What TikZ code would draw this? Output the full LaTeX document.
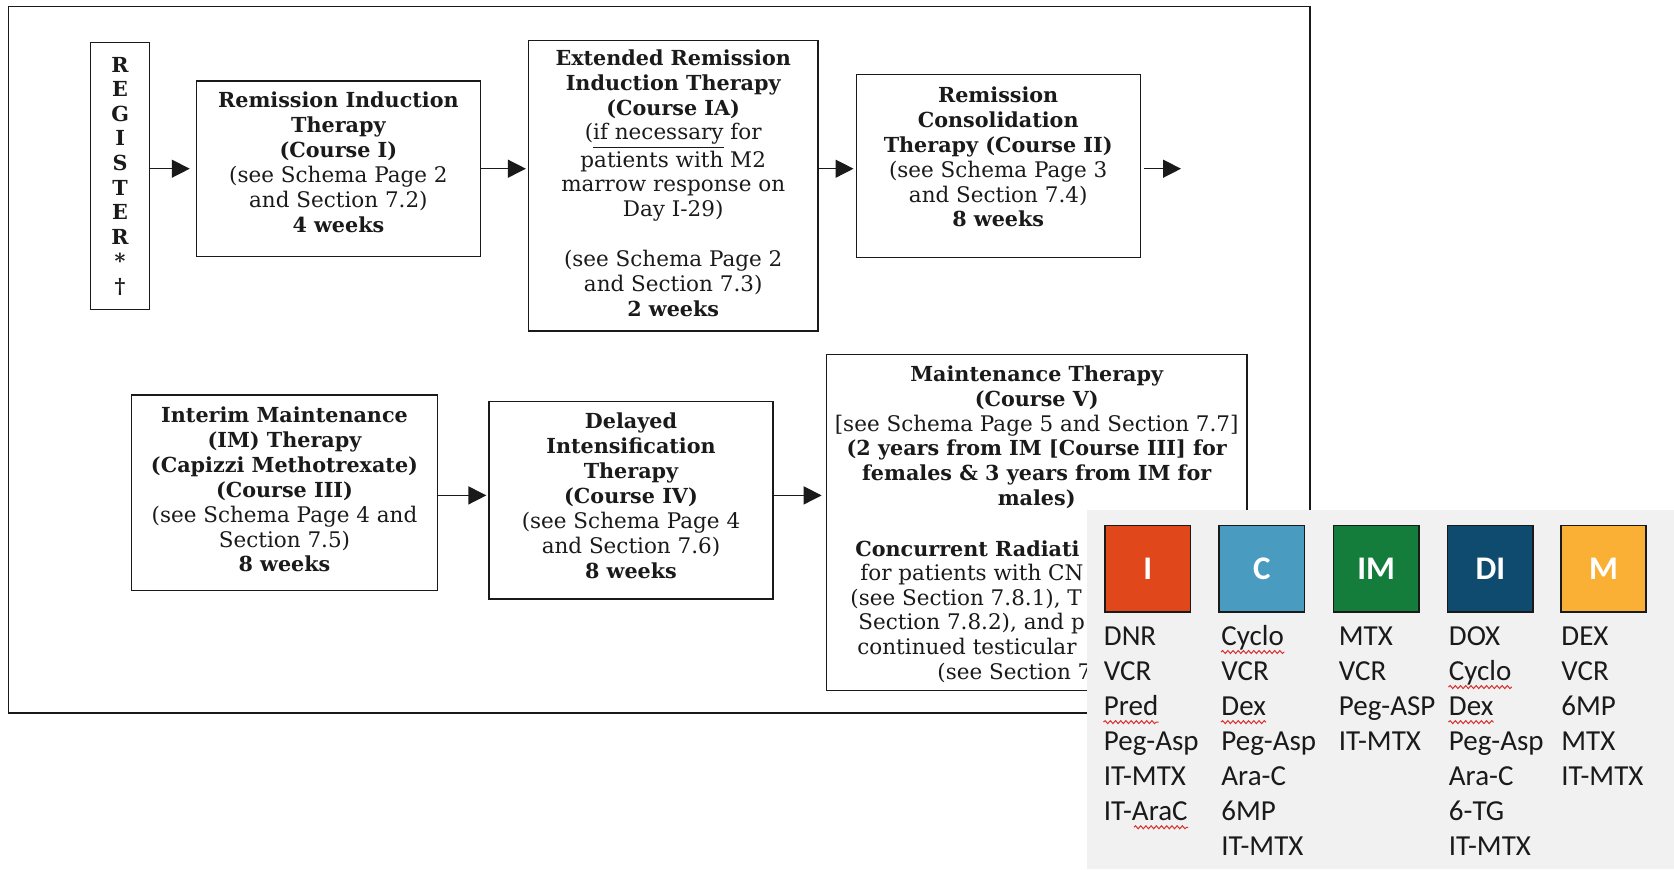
\documentclass[tikz,border=0pt]{standalone}
\usepackage{fontspec}
\setmainfont{DejaVu Serif}
\newfontfamily\legendfont{Carlito}
\usetikzlibrary{arrows.meta,decorations.pathmorphing}
\definecolor{cI}{HTML}{E0481C}
\definecolor{cC}{HTML}{4A9BC0}
\definecolor{cIM}{HTML}{147D3C}
\definecolor{cDI}{HTML}{0E4B6E}
\definecolor{cM}{HTML}{F9B034}
\definecolor{panelgray}{HTML}{F1F1F1}
\definecolor{ink}{HTML}{1A1A1A}
\definecolor{squigred}{HTML}{D83030}
\newcommand\boldtxt[1]{{\fontsize{10.35}{12.45}\selectfont\bfseries #1}}
\begin{document}
\begin{tikzpicture}[x=0.5pt,y=-0.5pt,
  box/.style={draw=ink, line width=0.65pt, inner sep=0pt},
  txt/.style={align=center, inner sep=0pt, text=ink, font=\fontsize{10.75}{12.45}\selectfont},
  txtl/.style={anchor=west, inner sep=0pt, text=ink, text height=7.5pt, text depth=0pt, font=\fontsize{10.75}{12.45}\selectfont},
  arr/.style={draw=ink, line width=0.7pt, -{Triangle[length=9pt,width=9pt]}},
  tile/.style={draw=ink, line width=0.8pt, minimum width=42.7pt, minimum height=43.2pt, inner sep=0pt, text=white, font=\legendfont\bfseries\fontsize{16.5}{18}\selectfont},
  drug/.style={anchor=west, inner sep=0pt, text height=9.3pt, text depth=0pt, text=ink, font=\legendfont\fontsize{14.5}{17}\selectfont},
  squig/.style={draw=squigred, line width=0.5pt, decorate, decoration={snake, amplitude=0.75pt, segment length=2.6pt}}
]
\fill[white] (0,0) rectangle (1674,869);
\useasboundingbox (0,0) rectangle (1674,869);

% outer frame
\draw[ink, line width=0.6pt] (8.5,6.4) rectangle (1310,713);

\coordinate (r1) at (0,168.7);
\coordinate (r2) at (0,495.4);
\coordinate (out) at (1181,168.7);

% row 1
\node[box, minimum width=29.4pt, minimum height=133.5pt, align=center, text=ink,
      font=\bfseries\fontsize{10.35}{12.3}\selectfont] (reg) at (120.1,176.2)
      {R\\E\\G\\I\\S\\T\\E\\R\\*\\†};

\node[box, minimum width=142pt, minimum height=87.6pt] (b1) at (338.4,168.7) {};
\node[txt] (t1) at (338.4,162.3) {\boldtxt{Remission Induction}\\\boldtxt{Therapy}\\\boldtxt{(Course I)}\\(see Schema Page 2\\and Section 7.2)\\\boldtxt{4 weeks}};

\node[box, minimum width=144.7pt, minimum height=145.2pt] (b1a) at (673.2,185.8) {};
\node[txt] (t1a) at (673.2,183.1) {\boldtxt{Extended Remission}\\\boldtxt{Induction Therapy}\\\boldtxt{(Course IA)}\\(\underline{if necessary} for\\patients with M2\\marrow response on\\Day I-29)\\[12.45pt](see Schema Page 2\\and Section 7.3)\\\boldtxt{2 weeks}};

\node[box, minimum width=142pt, minimum height=91.3pt] (b2) at (998.2,166) {};
\node[txt] (t2) at (998.2,157) {\boldtxt{Remission}\\\boldtxt{Consolidation}\\\boldtxt{Therapy (Course II)}\\(see Schema Page 3\\and Section 7.4)\\\boldtxt{8 weeks}};

% row 2
\node[box, minimum width=153.2pt, minimum height=97.7pt] (b3) at (284.5,492.7) {};
\node[txt] (t3) at (284.5,489.5) {\boldtxt{Interim Maintenance}\\\boldtxt{(IM) Therapy}\\\boldtxt{(Capizzi Methotrexate)}\\\boldtxt{(Course III)}\\(see Schema Page 4 and\\Section 7.5)\\\boldtxt{8 weeks}};

\node[box, minimum width=142pt, minimum height=98.8pt] (b4) at (631,500.2) {};
\node[txt] (t4) at (631,495.9) {\boldtxt{Delayed}\\\boldtxt{Intensification}\\\boldtxt{Therapy}\\\boldtxt{(Course IV)}\\(see Schema Page 4\\and Section 7.6)\\\boldtxt{8 weeks}};

\node[box, minimum width=210.4pt, minimum height=168.2pt] (b5) at (1036.7,522.6) {};
\node[txt] (t5) at (1036.7,437.2) {\boldtxt{Maintenance Therapy}\\\boldtxt{(Course V)}\\{[}see Schema Page 5 and Section 7.7{]}\\\boldtxt{(2 years from IM [Course III] for}\\\boldtxt{females \& 3 years from IM for}\\\boldtxt{males)}};
\node[txtl] (t5a) at (855,548.7) {\boldtxt{Concurrent Radiati}};
\node[txtl] (t5b) at (860,573.3) {for patients with CN};
\node[txtl] (t5c) at (850,597.9) {(see Section 7.8.1), T};
\node[txtl] (t5d) at (858,622.4) {Section 7.8.2), and p};
\node[txtl] (t5e) at (857,647) {continued testicular};
\node[txtl] (t5f) at (937,671.5) {(see Section 7};

% arrows
\draw[arr, shorten >=3pt] (reg.east |- r1) -- (b1.west |- r1);
\draw[arr, shorten >=1pt] (b1.east |- r1) -- (b1a.west |- r1);
\draw[arr, shorten >=1pt] (b1a.east |- r1) -- (b2.west |- r1);
\draw[arr, shorten <=1.5pt] (b2.east |- r1) -- (out);
\draw[arr, shorten >=1pt] (b3.east |- r2) -- (b4.west |- r2);
\draw[arr, shorten >=2pt] (b4.east |- r2) -- (b5.west |- r2);

% legend panel
\fill[panelgray] (1087,510) rectangle (1674,869);
\node[tile, fill=cI]  (kI)  at (1147.8,568.5) {I};
\node[tile, fill=cC]  (kC)  at (1261.8,568.5) {C};
\node[tile, fill=cIM] (kIM) at (1376.2,568.5) {IM};
\node[tile, fill=cDI] (kDI) at (1490.3,568.5) {DI};
\node[tile, fill=cM]  (kM)  at (1603.5,568.5) {M};

\foreach \t [count=\i] in {DNR,VCR,Pred,Peg-Asp,IT-MTX,IT-AraC}
  \node[drug] (dI\i) at (1103.5,{636.3+35.05*(\i-1)}) {\t};
\foreach \t [count=\i] in {Cyclo,VCR,Dex,Peg-Asp,Ara-C,6MP,IT-MTX}
  \node[drug] (dC\i) at (1221,{636.3+35.05*(\i-1)}) {\t};
\foreach \t [count=\i] in {MTX,VCR,Peg-ASP,IT-MTX}
  \node[drug] (dIM\i) at (1338.5,{636.3+35.05*(\i-1)}) {\t};
\foreach \t [count=\i] in {DOX,Cyclo,Dex,Peg-Asp,Ara-C,6-TG,IT-MTX}
  \node[drug] (dDI\i) at (1448.5,{636.3+35.05*(\i-1)}) {\t};
\foreach \t [count=\i] in {DEX,VCR,6MP,MTX,IT-MTX}
  \node[drug] (dM\i) at (1561,{636.3+35.05*(\i-1)}) {\t};

% spelling squiggles
\draw[squig] ([yshift=-3pt]dI3.south west) -- ([yshift=-3pt]dI3.south east);
\draw[squig] ([xshift=15.2pt,yshift=-3pt]dI6.south west) -- ([yshift=-3pt]dI6.south east);
\draw[squig] ([yshift=-3pt]dC1.south west) -- ([yshift=-3pt]dC1.south east);
\draw[squig] ([yshift=-3pt]dC3.south west) -- ([yshift=-3pt]dC3.south east);
\draw[squig] ([yshift=-3pt]dDI2.south west) -- ([yshift=-3pt]dDI2.south east);
\draw[squig] ([yshift=-3pt]dDI3.south west) -- ([yshift=-3pt]dDI3.south east);
\end{tikzpicture}
\end{document}
